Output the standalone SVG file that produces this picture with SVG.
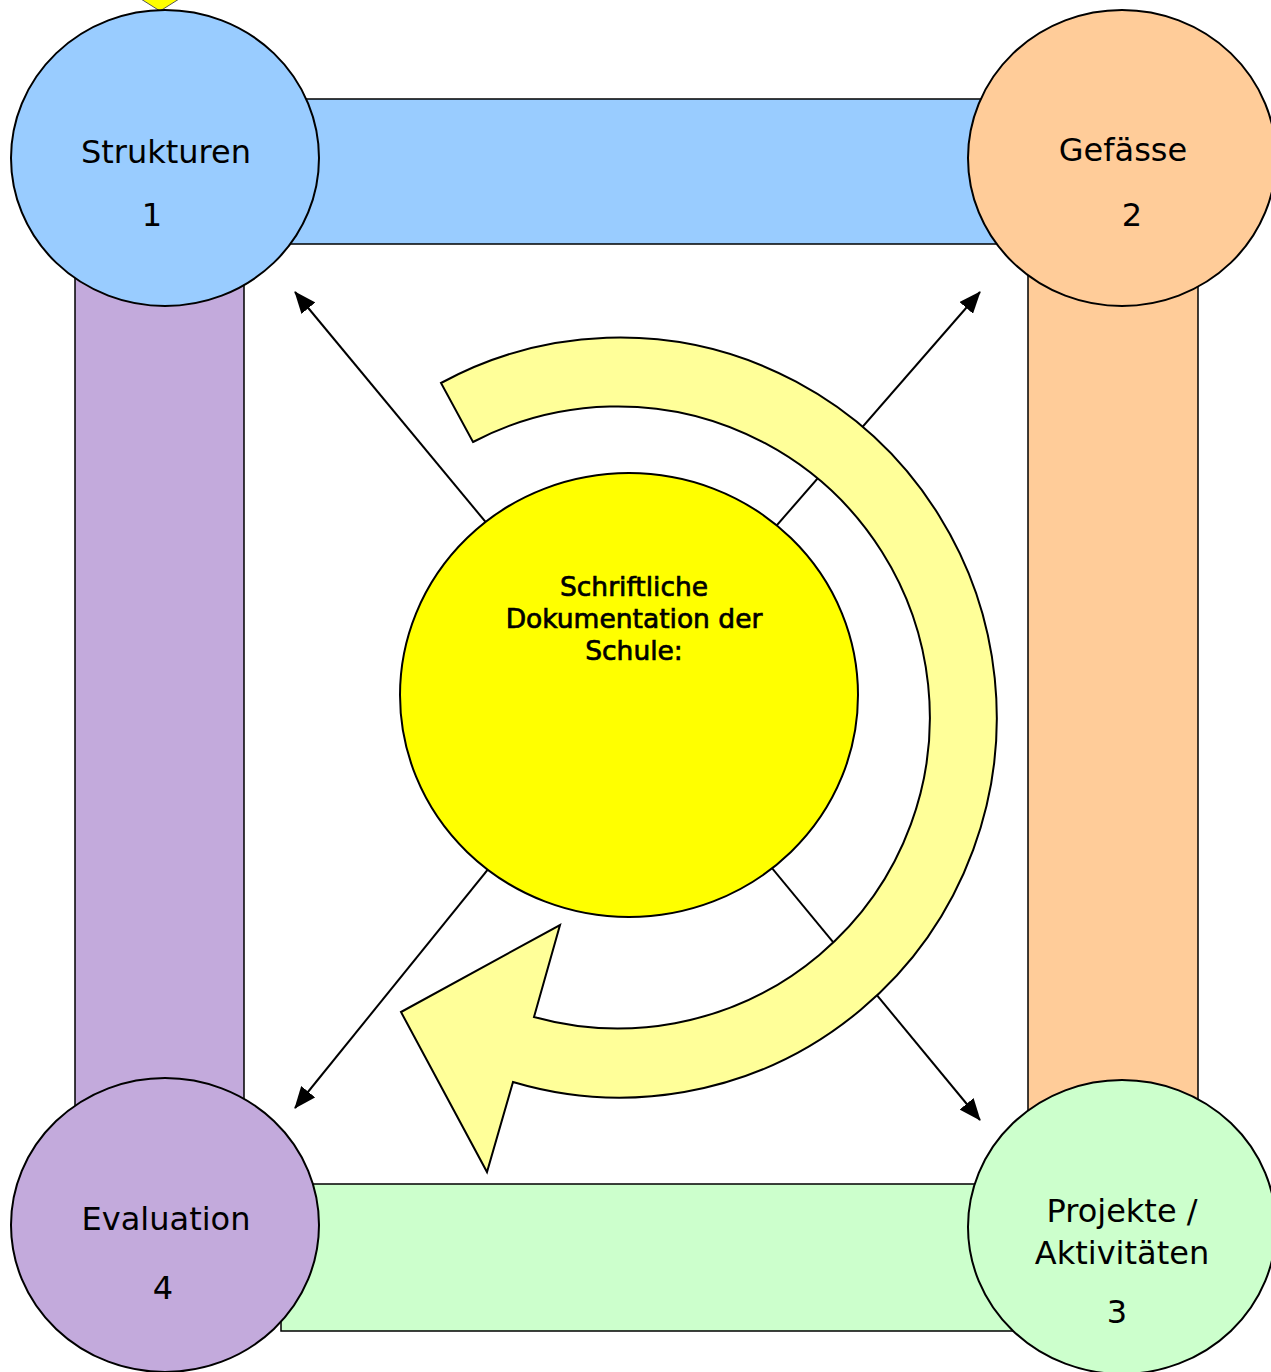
<svg xmlns="http://www.w3.org/2000/svg" width="1271" height="1372" viewBox="0 0 1271 1372">
  <style>
    .bar { stroke: #000; stroke-width: 1.5; }
    .node { stroke: #000; stroke-width: 2; }
    .lbl { font-family: "DejaVu Sans", Verdana, sans-serif; font-size: 32px; fill: #000; text-anchor: middle; }
    .core { font-family: "DejaVu Sans", Verdana, sans-serif; font-size: 26.5px; fill: #000; text-anchor: middle; stroke: #000; stroke-width: 0.7; }
    .link { stroke: #000; stroke-width: 2; fill: none; }
  </style>
  <defs>
    <marker id="head" viewBox="0 0 22 18" refX="21" refY="9" markerWidth="22" markerHeight="18" markerUnits="userSpaceOnUse" orient="auto">
      <path d="M0,0 L22,9 L0,18 Z" fill="#000"/>
    </marker>
  </defs>

  <rect width="1271" height="1372" fill="#fff"/>

  <!-- frame bars joining the four stations -->
  <g id="bars">
    <rect class="bar" x="165" y="99" width="957" height="145" fill="#99CCFF"/>
    <rect class="bar" x="75" y="158" width="169" height="1067" fill="#C3AADC"/>
    <rect class="bar" x="1028" y="158" width="170" height="1069" fill="#FFCC99"/>
    <rect class="bar" x="281" y="1184" width="841" height="147" fill="#CCFFCC"/>
  </g>

  <!-- connectors from the centre to the corners -->
  <g id="connectors">
    <line class="link" x1="629" y1="695" x2="295" y2="292" marker-end="url(#head)"/>
    <line class="link" x1="629" y1="695" x2="980" y2="292" marker-end="url(#head)"/>
    <line class="link" x1="629" y1="695" x2="295" y2="1108" marker-end="url(#head)"/>
    <line class="link" x1="629" y1="695" x2="980" y2="1120" marker-end="url(#head)"/>
  </g>

  <!-- circular cycle arrow -->
  <g id="cycle">
    <path d="M441,383 A377,380 0 1 1 513,1082 L487,1172 L401,1012 L560,925 L534,1017 A312,311 0 1 0 473,442 Z" fill="#FFFF99" stroke="#000" stroke-width="2" stroke-linejoin="miter"/>
  </g>

  <!-- small marker above the first station -->
  <g id="top-mark">
    <polygon points="133,-6 160,11 187,-6" fill="#FFFF00" stroke="#555" stroke-width="1"/>
  </g>

  <g id="node-strukturen">
    <ellipse class="node" cx="165" cy="158" rx="154" ry="148" fill="#99CCFF"/>
    <text class="lbl" x="166" y="163">Strukturen</text>
    <text class="lbl" x="152" y="226">1</text>
  </g>

  <g id="node-gefaesse">
    <ellipse class="node" cx="1122" cy="158" rx="154" ry="148" fill="#FFCC99"/>
    <text class="lbl" x="1123" y="161">Gefässe</text>
    <text class="lbl" x="1132" y="226">2</text>
  </g>

  <g id="node-evaluation">
    <ellipse class="node" cx="165" cy="1225" rx="154" ry="147" fill="#C3AADC"/>
    <text class="lbl" x="166" y="1230">Evaluation</text>
    <text class="lbl" x="163" y="1299">4</text>
  </g>

  <g id="node-projekte">
    <ellipse class="node" cx="1122" cy="1227" rx="154" ry="147" fill="#CCFFCC"/>
    <text class="lbl" x="1122" y="1222">Projekte /</text>
    <text class="lbl" x="1122" y="1264">Aktivitäten</text>
    <text class="lbl" x="1117" y="1323">3</text>
  </g>

  <g id="node-dokumentation">
    <ellipse class="node" cx="629" cy="695" rx="229" ry="222" fill="#FFFF00"/>
    <text class="core" x="634" y="596">Schriftliche</text>
    <text class="core" x="634" y="628">Dokumentation der</text>
    <text class="core" x="634" y="660">Schule:</text>
  </g>
</svg>
